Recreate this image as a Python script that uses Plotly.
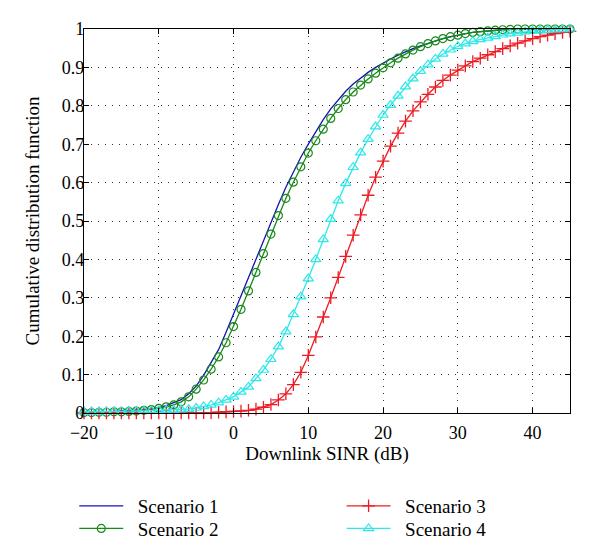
import plotly.graph_objects as go

sinr_db = list(range(-20, 46))

scenario1 = [0.002, 0.002, 0.003, 0.003, 0.004, 0.005, 0.006, 0.007, 0.009, 0.011,
             0.014, 0.019, 0.026, 0.035, 0.050, 0.070, 0.098, 0.130, 0.165, 0.210,
             0.258, 0.305, 0.352, 0.400, 0.450, 0.497, 0.543, 0.588, 0.628, 0.666,
             0.700, 0.733, 0.764, 0.792, 0.816, 0.838, 0.857, 0.873, 0.887, 0.900,
             0.912, 0.922, 0.932, 0.941, 0.949, 0.956, 0.963, 0.969, 0.975, 0.980,
             0.984, 0.988, 0.991, 0.993, 0.995, 0.997, 0.998, 0.999, 0.999, 1.0,
             1.0, 1.0, 1.0, 1.0, 1.0, 1.0]

scenario2 = [0.001, 0.001, 0.002, 0.002, 0.003, 0.003, 0.004, 0.005, 0.007, 0.009,
             0.012, 0.016, 0.021, 0.029, 0.042, 0.062, 0.086, 0.114, 0.146, 0.183,
             0.225, 0.270, 0.318, 0.366, 0.415, 0.466, 0.514, 0.559, 0.601, 0.641,
             0.677, 0.709, 0.739, 0.767, 0.793, 0.816, 0.836, 0.854, 0.870, 0.885,
             0.899, 0.912, 0.924, 0.935, 0.945, 0.954, 0.962, 0.969, 0.975, 0.980,
             0.984, 0.988, 0.991, 0.993, 0.995, 0.997, 0.998, 0.999, 1.0, 1.0,
             1.0, 1.0, 1.0, 1.0, 1.0, 1.0]

scenario3 = [0.0, 0.0, 0.0, 0.0, 0.0, 0.0, 0.0, 0.0, 0.0, 0.0,
             0.0, 0.0, 0.0, 0.0, 0.0, 0.0, 0.001, 0.001, 0.002, 0.003,
             0.004, 0.005, 0.007, 0.010, 0.015, 0.022, 0.034, 0.050, 0.074, 0.106,
             0.150, 0.198, 0.250, 0.300, 0.353, 0.408, 0.463, 0.516, 0.567, 0.614,
             0.656, 0.695, 0.729, 0.760, 0.787, 0.810, 0.830, 0.849, 0.866, 0.880,
             0.893, 0.904, 0.915, 0.924, 0.933, 0.941, 0.949, 0.956, 0.963, 0.969,
             0.975, 0.980, 0.984, 0.988, 0.991, 0.994]

scenario4 = [0.003, 0.003, 0.003, 0.004, 0.004, 0.004, 0.005, 0.005, 0.006, 0.006,
             0.007, 0.008, 0.008, 0.009, 0.010, 0.013, 0.017, 0.021, 0.027, 0.034,
             0.042, 0.055, 0.068, 0.090, 0.112, 0.140, 0.173, 0.212, 0.257, 0.303,
             0.350, 0.400, 0.452, 0.505, 0.553, 0.598, 0.640, 0.678, 0.713, 0.746,
             0.776, 0.802, 0.826, 0.850, 0.871, 0.890, 0.907, 0.922, 0.935, 0.946,
             0.955, 0.962, 0.968, 0.973, 0.977, 0.981, 0.985, 0.988, 0.990, 0.993,
             0.995, 0.996, 0.997, 0.998, 0.999, 1.0]

names = ["Scenario 1", "Scenario 2", "Scenario 3", "Scenario 4"]
x_ticks = [-20, -10, 0, 10, 20, 30, 40]
y_ticks = [0, 0.1, 0.2, 0.3, 0.4, 0.5, 0.6, 0.7, 0.8, 0.9, 1]

FONT = "Liberation Serif, Times New Roman, Times, serif"
PAD = "\u2002"

fig = go.Figure()
fig.add_trace(go.Scatter(x=sinr_db, y=scenario1, name=PAD + names[0], mode="lines",
                         line=dict(color="#1414b4", width=1.3), legend="legend",
                         showlegend=True, cliponaxis=False))
fig.add_trace(go.Scatter(x=sinr_db, y=scenario2, name=PAD + names[1], mode="lines+markers",
                         line=dict(color="#178a17", width=1.3),
                         marker=dict(symbol="circle-open", size=8,
                                     line=dict(color="#178a17", width=1.2)),
                         legend="legend2", showlegend=True, cliponaxis=False))
fig.add_trace(go.Scatter(x=sinr_db, y=scenario3, name=PAD + names[2], mode="lines+markers",
                         line=dict(color="#ec1c24", width=1.3),
                         marker=dict(symbol="cross-thin-open", size=9, color="#ec1c24",
                                     line=dict(color="#ec1c24", width=1.3)),
                         legend="legend3", showlegend=True, cliponaxis=False))
fig.add_trace(go.Scatter(x=sinr_db, y=scenario4, name=PAD + names[3], mode="lines+markers",
                         line=dict(color="#2ee8e8", width=1.3),
                         marker=dict(symbol="triangle-up-open", size=9,
                                     line=dict(color="#2ee8e8", width=1.2)),
                         legend="legend4", showlegend=True, cliponaxis=False))

axis_common = dict(
    showline=True, linecolor="black", linewidth=1.2, mirror="ticks",
    ticks="inside", ticklen=5, tickcolor="black", tickwidth=1,
    showgrid=True, gridcolor="#333333", gridwidth=1, griddash="1px,6px",
    zeroline=False, tickfont=dict(family=FONT, size=18, color="black"),
)

fig.update_xaxes(range=[-20, 45], tickvals=x_ticks, ticklabelstandoff=3,
                 title=dict(text="Downlink SINR (dB)", font=dict(family=FONT, size=19, color="black"),
                            standoff=4),
                 **axis_common)
fig.update_yaxes(range=[0, 1], tickvals=y_ticks, ticklabelstandoff=-5,
                 title=dict(text="Cumulative distribution function",
                            font=dict(family=FONT, size=19, color="black"), standoff=17),
                 **axis_common)

legend_common = dict(orientation="v", xanchor="left", yanchor="middle",
                     font=dict(family=FONT, size=19, color="black"),
                     bgcolor="rgba(0,0,0,0)", itemwidth=44, tracegroupgap=0)

row1 = -0.242
row2 = -0.301
fig.update_layout(
    width=600, height=558, showlegend=True,
    margin=dict(l=76, r=38, t=21, b=153),
    paper_bgcolor="white", plot_bgcolor="white",
    legend=dict(x=-0.02, y=row1, **legend_common),
    legend2=dict(x=-0.02, y=row2, **legend_common),
    legend3=dict(x=0.53, y=row1, **legend_common),
    legend4=dict(x=0.53, y=row2, **legend_common),
)

fig.write_html("out.html")
